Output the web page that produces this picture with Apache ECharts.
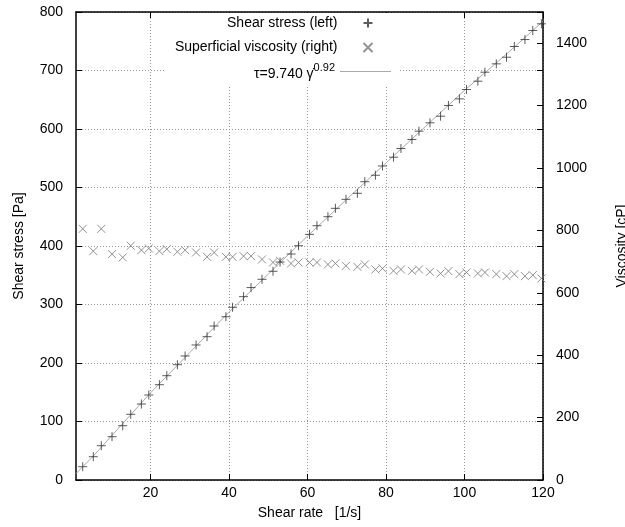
<!DOCTYPE html>
<html>
<head>
<meta charset="utf-8">
<script src="https://cdn.jsdelivr.net/npm/echarts@6/dist/echarts.min.js"></script>
<style>
html,body{margin:0;padding:0;background:#fff;}
#chart{width:625px;height:527px;}
</style>
</head>
<body>
<div id="chart"></div>
<script>
// Data
var shearRate = [2.71, 5.41, 7.45, 10.18, 12.91, 14.95, 17.66, 19.55, 22.25, 24.14, 26.84,
  28.8, 31.6, 34.4, 36.2, 39.2,
  40.9, 43.7, 45.6, 48.4, 51.2, 53.0, 55.8, 57.7, 60.5, 62.4, 65.2, 67.1, 69.8, 72.7, 74.6, 77.3, 79.1,
  81.9, 83.8, 86.6, 88.4, 91.2, 93.9, 95.9, 98.7, 100.5, 103.4, 105.2, 108.1, 110.7, 112.7, 115.4, 117.4, 119.6];
var shearStress = [22.7, 39.8, 58.6, 74.0, 92.8, 112.3, 129.9, 145.3, 162.9, 178.3, 197.1,
  212.0, 230.8, 245.0, 263.2, 279.1,
  295.2, 313.4, 328.9, 343.1, 356.8, 372.6, 386.3, 400.5, 419.9, 434.7, 450.1, 464.4, 479.8, 490.1, 509.9, 520.9, 536.8,
  551.8, 566.7, 582.1, 596.3, 610.6, 621.9, 640.2, 651.5, 667.5, 681.7, 697.1, 711.4, 722.7, 741.0, 752.9, 768.4, 779.8];
var viscosity = [805, 733.5, 805, 724, 713.4, 750.8, 736.7, 742.2, 733.5, 740, 731.5,
  736.7, 729.3, 715.2, 729.3, 715.2,
  715.2, 717.5, 717.5, 706.9, 697.3, 702.4, 694.1, 697.3, 697.3, 697.3, 690.9, 694.1, 686.4, 683.2, 690.9, 674.9, 678.1,
  670.4, 674.9, 670.4, 674.9, 667.2, 662.1, 669.4, 659.8, 665.3, 662.1, 665.3, 659.8, 653.4, 659.8, 653.4, 656.6, 646.1];
var fitRate = [1, 5, 10, 20, 30, 40, 50, 60, 70, 80, 90, 100, 110, 120];
var fitStress = [11, 38, 75, 149, 218, 287, 352, 417, 480, 542, 604, 666, 724, 784];
var xTicks = [20, 40, 60, 80, 100, 120];
var y2Ticks = [0, 200, 400, 600, 800, 1000, 1200, 1400];

var names = ['Shear stress (left)', 'Superficial viscosity (right)', 'fit'];
var plusPath = 'path://M0,5L10,5M5,0L5,10';
var crossPath = 'path://M0,0L10,10M10,0L0,10';
var FONT = '"Liberation Sans", Arial, Helvetica, sans-serif';

function pairs(xs, ys) { return xs.map(function (x, i) { return [x, ys[i]]; }); }

var chart = echarts.init(document.getElementById('chart'), null, {renderer: 'canvas'});
var tickStyle = {show: true, inside: true, length: 6, lineStyle: {color: '#000', width: 1}};
var frameLine = {show: true, onZero: false, lineStyle: {color: '#000', width: 1.5}};
var legendBase = {
  orient: 'vertical', align: 'right', padding: 0,
  itemWidth: 9, itemHeight: 9, selectedMode: false, z: 6
};
chart.setOption({
  animation: false,
  backgroundColor: '#fff',
  textStyle: {fontFamily: FONT},
  grid: {left: 76, right: 82, top: 12, bottom: 47, containLabel: false, outerBoundsMode: 'none'},
  graphic: [{type: 'rect', z: 1, shape: {x: 165, y: 13, width: 233, height: 72}, style: {fill: '#fff'}}],
  legend: [
    Object.assign({}, legendBase, {right: 250, top: 16, data: [{name: names[0], icon: plusPath}],
      textStyle: {fontSize: 14, color: '#000', fontFamily: FONT, padding: [0, 21, 0, 0]}}),
    Object.assign({}, legendBase, {right: 250, top: 40.5, data: [{name: names[1], icon: crossPath}],
      textStyle: {fontSize: 14, color: '#000', fontFamily: FONT, padding: [0, 21, 0, 0]}}),
    Object.assign({}, legendBase, {right: 234, top: 62, itemWidth: 51, itemHeight: 1,
      data: [{name: names[2], icon: 'rect', itemStyle: {color: '#aaa'}}],
      formatter: function () { return '{a|τ=9.740 γ̇}{s|0.92}'; },
      textStyle: {fontSize: 14, color: '#000', fontFamily: FONT,
        rich: {
          a: {fontSize: 14, color: '#000', fontFamily: FONT, verticalAlign: 'bottom'},
          s: {fontSize: 11, color: '#000', fontFamily: FONT, verticalAlign: 'top', padding: [0, 0, 8, 0]}
        }}
    })
  ],
  xAxis: [
    {type: 'value', position: 'bottom', min: 1, max: 120,
      name: 'Shear rate   [1/s]', nameLocation: 'middle', nameGap: 26,
      nameTextStyle: {fontSize: 14, color: '#000', fontFamily: FONT},
      axisLine: frameLine,
      axisTick: Object.assign({customValues: xTicks}, tickStyle),
      axisLabel: {customValues: xTicks, fontSize: 14, color: '#000', margin: 6, fontFamily: FONT},
      splitLine: {show: true, lineStyle: {color: '#999', width: 1, type: [1, 2]}}
    },
    {type: 'value', position: 'top', min: 1, max: 120,
      axisLine: frameLine,
      axisTick: Object.assign({customValues: xTicks}, tickStyle),
      axisLabel: {show: false},
      splitLine: {show: false}
    }
  ],
  yAxis: [
    {type: 'value', position: 'left', min: 0, max: 800, interval: 100,
      name: 'Shear stress [Pa]', nameLocation: 'middle', nameGap: 50, nameRotate: 90,
      nameTextStyle: {fontSize: 14, color: '#000', fontFamily: FONT},
      axisLine: frameLine,
      axisTick: tickStyle,
      axisLabel: {fontSize: 14, color: '#000', margin: 13, fontFamily: FONT},
      splitLine: {show: true, lineStyle: {color: '#999', width: 1, type: [1, 2]}}
    },
    {type: 'value', position: 'right', min: 0, max: 1500,
      name: 'Viscosity [cP]', nameLocation: 'middle', nameGap: 72, nameRotate: 90,
      nameTextStyle: {fontSize: 14, color: '#000', fontFamily: FONT},
      axisLine: frameLine,
      axisTick: Object.assign({customValues: y2Ticks}, tickStyle),
      axisLabel: {customValues: y2Ticks, fontSize: 14, color: '#000', margin: 13, fontFamily: FONT,
        formatter: function (v) { return String(v); }},
      splitLine: {show: false}
    },
    {type: 'value', position: 'right', min: 0, max: 800, interval: 100,
      axisLine: {show: false},
      axisTick: tickStyle,
      axisLabel: {show: false},
      splitLine: {show: false}
    }
  ],
  series: [
    {name: names[0], type: 'scatter', xAxisIndex: 0, yAxisIndex: 0, z: 4,
      symbol: plusPath, symbolSize: 9,
      itemStyle: {color: 'none', borderColor: '#333', borderWidth: 1},
      data: pairs(shearRate, shearStress)},
    {name: names[1], type: 'scatter', xAxisIndex: 0, yAxisIndex: 1, z: 3,
      symbol: crossPath, symbolSize: 8,
      itemStyle: {color: 'none', borderColor: '#777', borderWidth: 1},
      data: pairs(shearRate, viscosity)},
    {name: names[2], type: 'line', xAxisIndex: 0, yAxisIndex: 0, z: 2,
      symbol: 'none', showSymbol: false,
      lineStyle: {color: '#aaa', width: 1},
      itemStyle: {color: '#aaa'},
      data: pairs(fitRate, fitStress)}
  ]
});
</script>
</body>
</html>
